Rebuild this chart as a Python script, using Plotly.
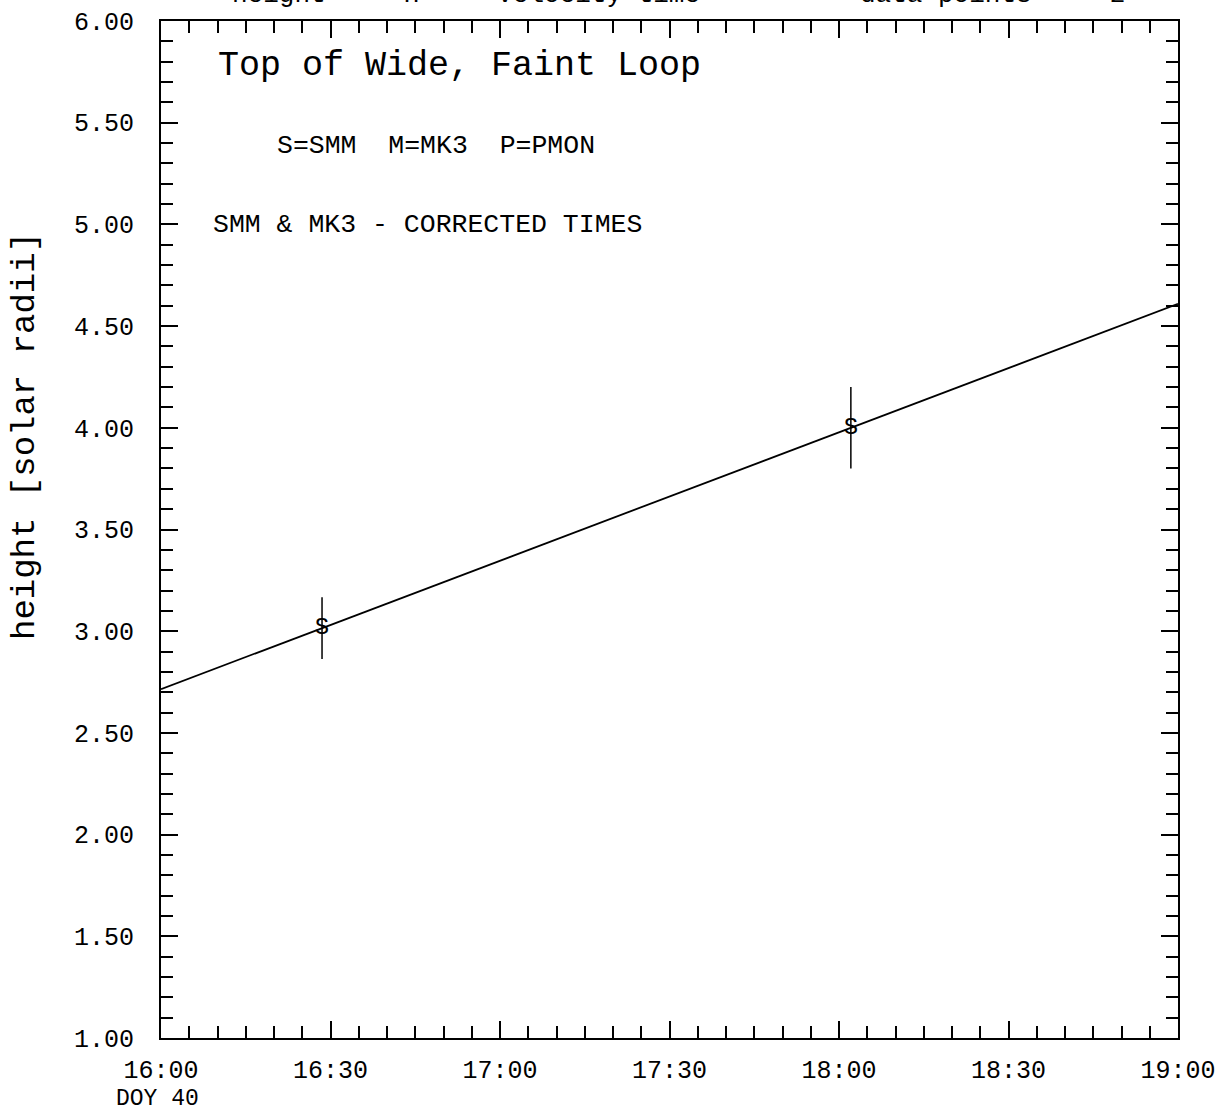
import numpy as np
import plotly.graph_objects as go

# ---- data ----
obs_time = ["16:28.5", "18:02.1"]          # HH:MM(.m) on DOY 40
obs_height = [3.015, 4.00]                 # solar radii
obs_err = [0.152, 0.20]
obs_symbol = ["S", "S"]                    # S=SMM

x_tickvals = [16.0, 16.5, 17.0, 17.5, 18.0, 18.5, 19.0]
x_ticktext = ["16:00", "16:30", "17:00", "17:30", "18:00", "18:30", "19:00"]
x_subtext = "DOY 40"
y_tickvals = [1.0, 1.5, 2.0, 2.5, 3.0, 3.5, 4.0, 4.5, 5.0, 5.5, 6.0]
y_ticktext = ["1.00", "1.50", "2.00", "2.50", "3.00", "3.50", "4.00", "4.50", "5.00", "5.50", "6.00"]

title_text = "Top of Wide, Faint Loop"
legend_text = "S=SMM  M=MK3  P=PMON"
note_text = "SMM & MK3 - CORRECTED TIMES"
header_left = "height  =  H  +  velocity*time"
header_right = "data points =   2"
y_title = "height [solar radii]"


def to_hours(s):
    h, m = s.split(":")
    return int(h) + float(m) / 60.0


xh = np.array([to_hours(t) for t in obs_time])
yh = np.array(obs_height)

# least-squares fit height = H + v*t
coef = np.polyfit(xh, yh, 1)
fit_x = np.array([x_tickvals[0], x_tickvals[-1]])
fit_y = np.polyval(coef, fit_x)

FONT = "Liberation Mono"
W, H = 1220, 1115
L, R, T, B = 161, 1178, 21, 1038
pw, ph = R - L, B - T


def px(x):
    return (x - L) / pw


def py(y):
    return (B - y) / ph


fig = go.Figure()
fig.add_trace(go.Scatter(
    x=fit_x, y=fit_y, mode="lines",
    line=dict(color="black", width=1.8), hoverinfo="skip", showlegend=False))
fig.add_trace(go.Scatter(
    x=xh, y=yh, mode="text", text=obs_symbol,
    textfont=dict(family=FONT, size=24, color="black"),
    textposition="middle center",
    error_y=dict(type="data", array=obs_err, visible=True, width=0,
                 thickness=1.5, color="black"),
    showlegend=False))

axis_common = dict(
    showline=True, linecolor="black", linewidth=1.8, mirror="allticks",
    ticks="inside", tickcolor="black", tickwidth=1.5, ticklen=17,
    showgrid=False, zeroline=False, automargin=False,
    tickfont=dict(family=FONT, size=25, color="black"),
)

fig.update_xaxes(
    range=[x_tickvals[0], x_tickvals[-1]],
    tickmode="array", tickvals=x_tickvals, ticktext=x_ticktext,
    minor=dict(dtick=1 / 12, ticks="inside", ticklen=12, tickwidth=1.5,
               tickcolor="black", showgrid=False, tick0=16),
    ticklabelstandoff=8,
    **axis_common)
fig.update_yaxes(
    range=[y_tickvals[0], y_tickvals[-1]],
    tickmode="array", tickvals=y_tickvals, ticktext=y_ticktext,
    minor=dict(dtick=0.1, ticks="inside", ticklen=12, tickwidth=1.5,
               tickcolor="black", showgrid=False, tick0=1),
    ticklabelstandoff=20,
    **axis_common)

annos = [
    dict(text=title_text, x=px(216), y=py(66), size=35),
    dict(text=legend_text, x=px(275), y=py(146), size=26.5),
    dict(text=note_text, x=px(211), y=py(225), size=26.5),
    dict(text=header_left, x=px(230), y=py(-5), size=26),
    dict(text=header_right, x=px(858), y=py(-5), size=26),
]
for a in annos:
    fig.add_annotation(
        text=a["text"], xref="paper", yref="paper", x=a["x"], y=a["y"],
        xanchor="left", yanchor="middle", showarrow=False,
        font=dict(family=FONT, size=a["size"], color="black"))

fig.add_annotation(
    text=x_subtext, xref="paper", yref="paper", x=px(157), y=py(1114),
    xanchor="center", yanchor="bottom", showarrow=False,
    font=dict(family=FONT, size=23, color="black"))

fig.add_annotation(
    text=y_title, xref="paper", yref="paper", x=px(25), y=py(436),
    xanchor="center", yanchor="middle", textangle=-90, showarrow=False,
    font=dict(family=FONT, size=34, color="black"))

fig.update_layout(
    width=W, height=H,
    margin=dict(l=L, r=W - R, t=T, b=H - B),
    paper_bgcolor="white", plot_bgcolor="white",
    showlegend=False,
)

fig.write_html(
    "out.html",
    config={"displayModeBar": False},
    post_script="document.body.style.margin='0';document.body.style.overflow='hidden';",
)
